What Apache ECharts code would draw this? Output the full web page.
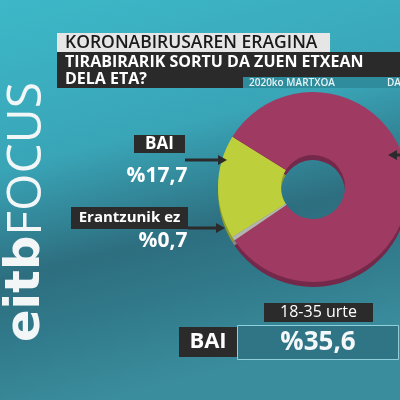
<!DOCTYPE html>
<html><head><meta charset="utf-8">
<script src="https://cdn.jsdelivr.net/npm/echarts@6/dist/echarts.min.js"></script>
<style>html,body{margin:0;padding:0;background:#3aa0b2}#c{width:400px;height:400px}</style>
</head><body><div id="c"></div>
<script>
var categories = ['BAI', 'Erantzunik ez', 'EZ'];
var values = [17.7, 0.7, 81.6];
var ageGroup = '18-35 urte';
var ageValue = 35.6;
var colors = ['#bdd03c', '#b3b3b3', '#9f3a62'];
var sideColors = ['#8f9c2a', '#888888', '#74284a'];

function pct(v){ return '%' + String(v).replace('.', ','); }

var chart = echarts.init(document.getElementById('c'), null, {renderer:'canvas'});
var F = '"Open Sans", sans-serif';
var D = '"DejaVu Sans", sans-serif';

function arrow(x1, x2, y){
  var dir = x2 < x1 ? -1 : 1;
  return [
    {type:'line', shape:{x1:x1, y1:y, x2:x2 - dir*6, y2:y}, style:{stroke:'#2b2b2b', lineWidth:3}, z:20},
    {type:'polygon', shape:{points:[[x2,y],[x2-dir*9,y-5],[x2-dir*9,y+5]]}, style:{fill:'#2b2b2b'}, z:20}
  ];
}

var graphics = [
  {type:'rect', shape:{x:0,y:0,width:400,height:400}, z:-10, silent:true,
   style:{fill:new echarts.graphic.LinearGradient(0,0,0.25,1,[
     {offset:0,color:'#3db8c8'},{offset:0.4,color:'#39a5b7'},{offset:0.66,color:'#2d6e7f'},
     {offset:0.82,color:'#317b8c'},{offset:1,color:'#3a8d9d'}])}},
  {type:'rect', shape:{x:57,y:33,width:273,height:19}, style:{fill:'#e6e6e6'}, z:10},
  {type:'text', x:65, y:43, style:{text:'KORONABIRUSAREN ERAGINA', font:'600 17.5px '+F, fill:'#1a1a1a', textVerticalAlign:'middle'}, z:11},
  {type:'rect', shape:{x:57,y:52,width:343,height:36}, style:{fill:'#2a2a2a'}, z:10},
  {type:'text', x:65, y:62, style:{text:'TIRABIRARIK SORTU DA ZUEN ETXEAN', font:'bold 16px '+F, fill:'#ffffff', textVerticalAlign:'middle'}, z:11},
  {type:'text', x:65, y:79, style:{text:'DELA ETA?', font:'bold 16px '+F, fill:'#ffffff', textVerticalAlign:'middle'}, z:11},
  {type:'rect', shape:{x:243,y:77,width:157,height:11}, style:{fill:'#2f8c9d'}, z:11},
  {type:'text', x:249, y:83, style:{text:'2020ko MARTXOA', font:'600 10px '+F, fill:'#e8f4f6', textVerticalAlign:'middle'}, z:12},
  {type:'text', x:387, y:83, style:{text:'DA', font:'600 10px '+F, fill:'#e8f4f6', textVerticalAlign:'middle'}, z:12},
  {type:'text', x:51, y:342, rotation:Math.PI/2, style:{
    text:'{a|eitb}{b|FOCUS}', fill:'#f2f6f7', textAlign:'left', textVerticalAlign:'bottom',
    rich:{a:{font:'bold 48px '+D, fill:'#f2f6f7'}, b:{font:'500 48px '+F, fill:'#f2f6f7'}}}, z:5},
  {type:'rect', shape:{x:134,y:135,width:51,height:18}, style:{fill:'#2b2b2b'}, z:15},
  {type:'text', x:159.5, y:144, style:{text:categories[0], font:'bold 17px '+F, fill:'#ffffff', textAlign:'center', textVerticalAlign:'middle'}, z:16},
  {type:'text', x:157, y:176, style:{text:pct(values[0]), font:'bold 21px '+F, fill:'#ffffff', textAlign:'center', textVerticalAlign:'middle'}, z:16},
  {type:'rect', shape:{x:71,y:207,width:117,height:22}, style:{fill:'#2b2b2b'}, z:15},
  {type:'text', x:129.5, y:218, style:{text:categories[1], font:'bold 15px '+F, fill:'#ffffff', textAlign:'center', textVerticalAlign:'middle'}, z:16},
  {type:'text', x:163, y:241, style:{text:pct(values[1]), font:'bold 21px '+F, fill:'#ffffff', textAlign:'center', textVerticalAlign:'middle'}, z:16},
  {type:'rect', shape:{x:264,y:303,width:109,height:19}, style:{fill:'#2b2b2b'}, z:15},
  {type:'text', x:318.5, y:312.5, style:{text:ageGroup, font:'16px '+F, fill:'#ffffff', textAlign:'center', textVerticalAlign:'middle'}, z:16},
  {type:'rect', shape:{x:179,y:327,width:58,height:30}, style:{fill:'#2b2b2b'}, z:15},
  {type:'text', x:208, y:342, style:{text:categories[0], font:'bold 22px '+F, fill:'#ffffff', textAlign:'center', textVerticalAlign:'middle'}, z:16},
  {type:'rect', shape:{x:237.5,y:325.5,width:161,height:34}, style:{fill:'#2f7585', stroke:'#8fd0dc', lineWidth:1}, z:15},
  {type:'text', x:318, y:343, style:{text:pct(ageValue), font:'bold 26px '+F, fill:'#f4f8f9', textAlign:'center', textVerticalAlign:'middle'}, z:16}
];
graphics = graphics.concat(arrow(185, 227, 160), arrow(188, 225, 228), arrow(402, 388, 155));

var data = categories.map(function(c,i){ return {name:c, value:values[i], itemStyle:{color:colors[i]}}; });
var sideData = categories.map(function(c,i){ return {name:c, value:values[i], itemStyle:{color:sideColors[i]}}; });

chart.setOption({
  animation:false,
  graphic:graphics,
  series:[
    {type:'pie', center:[313,192], radius:[32,95], startAngle:148, clockwise:false,
     label:{show:false}, labelLine:{show:false}, silent:true, emphasis:{disabled:true}, z:1, data:sideData},
    {type:'pie', center:[313,187], radius:[32,95], startAngle:148, clockwise:false,
     label:{show:false}, labelLine:{show:false}, silent:true, emphasis:{disabled:true}, z:2, data:data}
  ]
});
</script></body></html>
